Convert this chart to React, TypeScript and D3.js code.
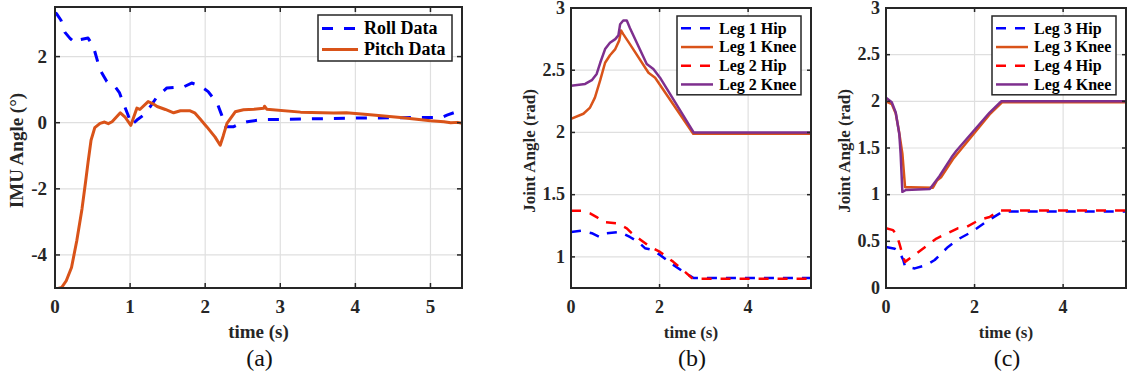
import * as d3 from "d3";

type Pt = [number, number];

// ---- panel (a): IMU angles ----
const rollData: Pt[] = [
  [0, 3.32], [0.02, 3.3], [0.08, 3.1], [0.13, 2.74], [0.2, 2.55], [0.27, 2.41], [0.33, 2.51],
  [0.44, 2.56], [0.51, 2.31], [0.6, 1.6], [0.69, 1.25], [0.8, 1.09], [0.86, 0.9], [0.91, 0.59],
  [0.97, 0.25], [1.02, -0.07], [1.09, 0.08], [1.18, 0.23], [1.27, 0.49], [1.36, 0.79], [1.49, 1.05],
  [1.6, 1.07], [1.71, 1.08], [1.82, 1.2], [1.93, 1.12], [2.04, 0.94], [2.16, 0.59], [2.22, 0.23],
  [2.27, -0.12], [2.38, -0.12], [2.47, -0.02], [2.56, 0.03], [2.78, 0.1], [3.0, 0.1], [3.5, 0.12],
  [4.0, 0.14], [4.5, 0.15], [5.0, 0.16], [5.15, 0.16], [5.22, 0.23], [5.31, 0.3],
];
const pitchData: Pt[] = [
  [0.02, -5.03], [0.09, -4.98], [0.15, -4.78], [0.22, -4.38], [0.29, -3.57], [0.36, -2.6],
  [0.41, -1.74], [0.44, -1.2], [0.48, -0.53], [0.53, -0.15], [0.6, -0.02], [0.66, 0.02],
  [0.71, -0.03], [0.76, 0.03], [0.87, 0.3], [0.93, 0.18], [1.01, -0.08], [1.09, 0.44], [1.13, 0.4],
  [1.24, 0.64], [1.3, 0.58], [1.36, 0.49], [1.47, 0.4], [1.58, 0.3], [1.67, 0.36], [1.8, 0.36],
  [1.86, 0.3], [1.93, 0.12], [2.02, -0.12], [2.13, -0.43], [2.2, -0.68], [2.24, -0.4],
  [2.29, -0.02], [2.4, 0.33], [2.51, 0.39], [2.65, 0.41], [2.78, 0.44], [2.79, 0.5], [2.82, 0.41],
  [3.27, 0.32], [3.71, 0.29], [3.88, 0.3], [4.16, 0.25], [4.6, 0.16], [5.0, 0.06], [5.18, 0.03],
  [5.27, 0.0], [5.36, 0.01], [5.42, -0.02],
];

// ---- panel (b): legs 1 & 2 ----
const leg1Hip: Pt[] = [
  [0, 1.2], [0.24, 1.21], [0.47, 1.19], [0.64, 1.16], [0.81, 1.19], [1.11, 1.2], [1.33, 1.16],
  [1.52, 1.12], [1.67, 1.07], [1.83, 1.056], [2.01, 1.016], [2.31, 0.936], [2.54, 0.88],
  [2.77, 0.83], [5.42, 0.83],
];
const leg1Knee: Pt[] = [
  [0, 2.11], [0.28, 2.15], [0.43, 2.2], [0.54, 2.28], [0.66, 2.42], [0.77, 2.56], [0.88, 2.62],
  [1.0, 2.67], [1.09, 2.74], [1.13, 2.82], [1.18, 2.79], [1.33, 2.71], [1.75, 2.48], [1.9, 2.44],
  [2.76, 1.99], [5.42, 1.99],
];
const leg2Hip: Pt[] = [
  [0, 1.37], [0.24, 1.37], [0.43, 1.35], [0.58, 1.32], [0.73, 1.28], [1.03, 1.27], [1.26, 1.23],
  [1.37, 1.19], [1.56, 1.14], [1.79, 1.08], [2.01, 1.04], [2.31, 0.96], [2.54, 0.89],
  [2.73, 0.83], [2.81, 0.825], [5.42, 0.825],
];
const leg2Knee: Pt[] = [
  [0, 2.376], [0.32, 2.39], [0.47, 2.42], [0.58, 2.47], [0.66, 2.56], [0.77, 2.67], [0.88, 2.72],
  [1.0, 2.75], [1.07, 2.78], [1.11, 2.87], [1.18, 2.9], [1.26, 2.9], [1.33, 2.84], [1.71, 2.55],
  [1.86, 2.51], [2.01, 2.44], [2.77, 2.0], [5.42, 2.0],
];

// ---- panel (c): legs 3 & 4 ----
const leg3Hip: Pt[] = [
  [0, 0.44], [0.2, 0.42], [0.3, 0.39], [0.39, 0.3], [0.43, 0.23], [0.65, 0.21], [0.91, 0.245],
  [1.1, 0.3], [1.4, 0.44], [1.66, 0.53], [1.93, 0.6], [2.26, 0.71], [2.64, 0.82], [5.42, 0.82],
];
const leg3Knee: Pt[] = [
  [0, 2.0], [0.13, 1.97], [0.22, 1.87], [0.3, 1.66], [0.37, 1.44], [0.43, 1.08], [0.55, 1.08],
  [1.06, 1.075], [1.15, 1.15], [1.25, 1.19], [1.51, 1.38], [2.34, 1.86], [2.62, 1.99], [5.42, 1.99],
];
const leg4Hip: Pt[] = [
  [0, 0.64], [0.16, 0.62], [0.24, 0.57], [0.3, 0.48], [0.39, 0.33], [0.43, 0.28], [0.69, 0.37],
  [1.14, 0.53], [1.62, 0.64], [1.8, 0.65], [2.11, 0.73], [2.34, 0.76], [2.55, 0.83], [5.42, 0.83],
];
const leg4Knee: Pt[] = [
  [0, 2.04], [0.13, 1.99], [0.22, 1.88], [0.3, 1.65], [0.33, 1.44], [0.37, 1.03], [0.45, 1.05],
  [0.99, 1.06], [1.1, 1.13], [1.21, 1.2], [1.48, 1.4], [1.59, 1.47], [2.34, 1.88], [2.6, 2.0],
  [5.42, 2.0],
];

const xTicksA = [0, 1, 2, 3, 4, 5];
const yTicksA = [-4, -2, 0, 2];
const xTicksBC = [0, 2, 4];
const yTicksB = [1, 1.5, 2, 2.5, 3];
const yTicksC = [0, 0.5, 1, 1.5, 2, 2.5, 3];

const FONT = '"Liberation Serif", Tinos, "Times New Roman", "DejaVu Serif", serif';
const BLUE = "#0000ff";
const RED = "#ff0000";
const ORANGE = "#d95319";
const PURPLE = "#7e2f8e";
const AXIS = "#262626";
const GRID = "#dfdfdf";

interface Series {
  name: string;
  data: Pt[];
  color: string;
  dashed: boolean;
}

interface PanelProps {
  id: string;
  left: number;
  right: number;
  top: number;
  bottom: number;
  xDomain: [number, number];
  yDomain: [number, number];
  xTicks: number[];
  yTicks: number[];
  series: Series[];
  yLabel: string;
  caption: string;
  tickSize: number;
  labelSize: number;
  legendSize: number;
  legendW: number;
  legendRowH: number;
  lineW: number;
  dash: string;
  tickLen: number;
  yTickGap: number;
  yLabelOff: number;
  sampleLen: number;
}

function Panel(p: PanelProps) {
  const x = d3.scaleLinear().domain(p.xDomain).range([p.left, p.right]);
  const y = d3.scaleLinear().domain(p.yDomain).range([p.bottom, p.top]);
  const line = d3
    .line<Pt>()
    .x((d) => x(d[0]))
    .y((d) => y(d[1]));
  const cx = (p.left + p.right) / 2;
  const cy = (p.top + p.bottom) / 2;

  const legRight = p.right - 10;
  const legLeft = legRight - p.legendW;
  const legTop = p.top + 8;
  const legH = p.series.length * p.legendRowH + 4;

  return (
    <g style={{ fontFamily: FONT }}>
      <defs>
        <clipPath id={`clip-${p.id}`}>
          <rect x={p.left} y={p.top} width={p.right - p.left} height={p.bottom - p.top} />
        </clipPath>
      </defs>
      <rect x={p.left} y={p.top} width={p.right - p.left} height={p.bottom - p.top} fill="#fff" />
      {/* grid */}
      {p.xTicks.map((t) => (
        <line key={`gx${t}`} x1={x(t)} x2={x(t)} y1={p.top} y2={p.bottom} stroke={GRID} strokeWidth={1.2} />
      ))}
      {p.yTicks.map((t) => (
        <line key={`gy${t}`} x1={p.left} x2={p.right} y1={y(t)} y2={y(t)} stroke={GRID} strokeWidth={1.2} />
      ))}
      {/* data */}
      <g clipPath={`url(#clip-${p.id})`}>
        {p.series.map((s) => (
          <path
            key={s.name}
            d={line(s.data) || ""}
            fill="none"
            stroke={s.color}
            strokeWidth={p.lineW}
            strokeDasharray={s.dashed ? p.dash : undefined}
            strokeLinejoin="round"
          />
        ))}
      </g>
      {/* ticks (inward, all four sides) */}
      {p.xTicks.map((t) => (
        <g key={`tx${t}`}>
          <line x1={x(t)} x2={x(t)} y1={p.bottom} y2={p.bottom - p.tickLen} stroke={AXIS} strokeWidth={1.5} />
          <line x1={x(t)} x2={x(t)} y1={p.top} y2={p.top + p.tickLen} stroke={AXIS} strokeWidth={1.5} />
          <text x={x(t)} y={p.bottom + 25} textAnchor="middle" fontSize={p.tickSize} fontWeight="bold" fill={AXIS}>
            {String(t)}
          </text>
        </g>
      ))}
      {p.yTicks.map((t) => (
        <g key={`ty${t}`}>
          <line x1={p.left} x2={p.left + p.tickLen} y1={y(t)} y2={y(t)} stroke={AXIS} strokeWidth={1.5} />
          <line x1={p.right} x2={p.right - p.tickLen} y1={y(t)} y2={y(t)} stroke={AXIS} strokeWidth={1.5} />
          <text
            x={p.left - p.yTickGap}
            y={y(t)}
            dy="0.32em"
            textAnchor="end"
            fontSize={p.tickSize}
            fontWeight="bold"
            fill={AXIS}
          >
            {String(t)}
          </text>
        </g>
      ))}
      <rect
        x={p.left}
        y={p.top}
        width={p.right - p.left}
        height={p.bottom - p.top}
        fill="none"
        stroke={AXIS}
        strokeWidth={2}
      />
      {/* axis labels */}
      <text x={cx} y={p.bottom + 50} textAnchor="middle" fontSize={p.labelSize} fontWeight="bold" fill={AXIS}>
        time (s)
      </text>
      <text
        transform={`translate(${p.left - p.yLabelOff},${cy + 3}) rotate(-90)`}
        textAnchor="middle"
        fontSize={p.labelSize}
        fontWeight="bold"
        fill={AXIS}
      >
        {p.yLabel}
      </text>
      <text x={cx + 1} y={p.bottom + 78} textAnchor="middle" fontSize={24} fill="#111">
        {p.caption}
      </text>
      {/* legend */}
      <rect x={legLeft} y={legTop} width={p.legendW} height={legH} fill="#fff" stroke={AXIS} strokeWidth={1.5} />
      {p.series.map((s, i) => {
        const ry = legTop + 3 + p.legendRowH * (i + 0.5);
        return (
          <g key={`lg${s.name}`}>
            <line
              x1={legLeft + 4}
              x2={legLeft + 4 + p.sampleLen}
              y1={ry}
              y2={ry}
              stroke={s.color}
              strokeWidth={p.lineW}
              strokeDasharray={s.dashed ? p.dash : undefined}
            />
            <text
              x={legLeft + p.sampleLen + 10}
              y={ry}
              dy="0.33em"
              fontSize={p.legendSize}
              fontWeight="bold"
              fill="#000"
            >
              {s.name}
            </text>
          </g>
        );
      })}
    </g>
  );
}

export default function App() {
  const seriesA: Series[] = [
    { name: "Roll Data", data: rollData, color: BLUE, dashed: true },
    { name: "Pitch Data", data: pitchData, color: ORANGE, dashed: false },
  ];
  const seriesB: Series[] = [
    { name: "Leg 1 Hip", data: leg1Hip, color: BLUE, dashed: true },
    { name: "Leg 1 Knee", data: leg1Knee, color: ORANGE, dashed: false },
    { name: "Leg 2 Hip", data: leg2Hip, color: RED, dashed: true },
    { name: "Leg 2 Knee", data: leg2Knee, color: PURPLE, dashed: false },
  ];
  const seriesC: Series[] = [
    { name: "Leg 3 Hip", data: leg3Hip, color: BLUE, dashed: true },
    { name: "Leg 3 Knee", data: leg3Knee, color: ORANGE, dashed: false },
    { name: "Leg 4 Hip", data: leg4Hip, color: RED, dashed: true },
    { name: "Leg 4 Knee", data: leg4Knee, color: PURPLE, dashed: false },
  ];
  const common = {
    top: 8,
    bottom: 288,
    xDomain: [0, 5.42] as [number, number],
    yLabel: "Joint Angle (rad)",
    tickSize: 18,
    labelSize: 17,
    legendSize: 16,
    legendW: 124,
    legendRowH: 18.7,
    lineW: 2.5,
    dash: "10 9",
    tickLen: 4,
    yTickGap: 6,
    yLabelOff: 36,
    sampleLen: 32,
  };
  return (
    <div style={{ position: "absolute", left: 0, top: 0 }}>
      <svg width={1127} height={379} style={{ display: "block", background: "#fff" }}>
        <Panel
          id="a"
          left={55}
          right={462}
          top={7}
          bottom={288}
          xDomain={[0, 5.42]}
          yDomain={[-5, 3.5]}
          xTicks={xTicksA}
          yTicks={yTicksA}
          series={seriesA}
          yLabel="IMU Angle (°)"
          caption="(a)"
          tickSize={19}
          labelSize={19}
          legendSize={18}
          legendW={134}
          legendRowH={21}
          lineW={3}
          dash="11 11"
          tickLen={5}
          yTickGap={8}
          yLabelOff={32}
          sampleLen={36}
        />
        <Panel
          {...common}
          id="b"
          left={571}
          right={811}
          yDomain={[0.75, 3]}
          xTicks={xTicksBC}
          yTicks={yTicksB}
          series={seriesB}
          caption="(b)"
        />
        <Panel
          {...common}
          id="c"
          left={886}
          right={1126}
          yDomain={[0, 3]}
          xTicks={xTicksBC}
          yTicks={yTicksC}
          series={seriesC}
          caption="(c)"
        />
      </svg>
    </div>
  );
}
